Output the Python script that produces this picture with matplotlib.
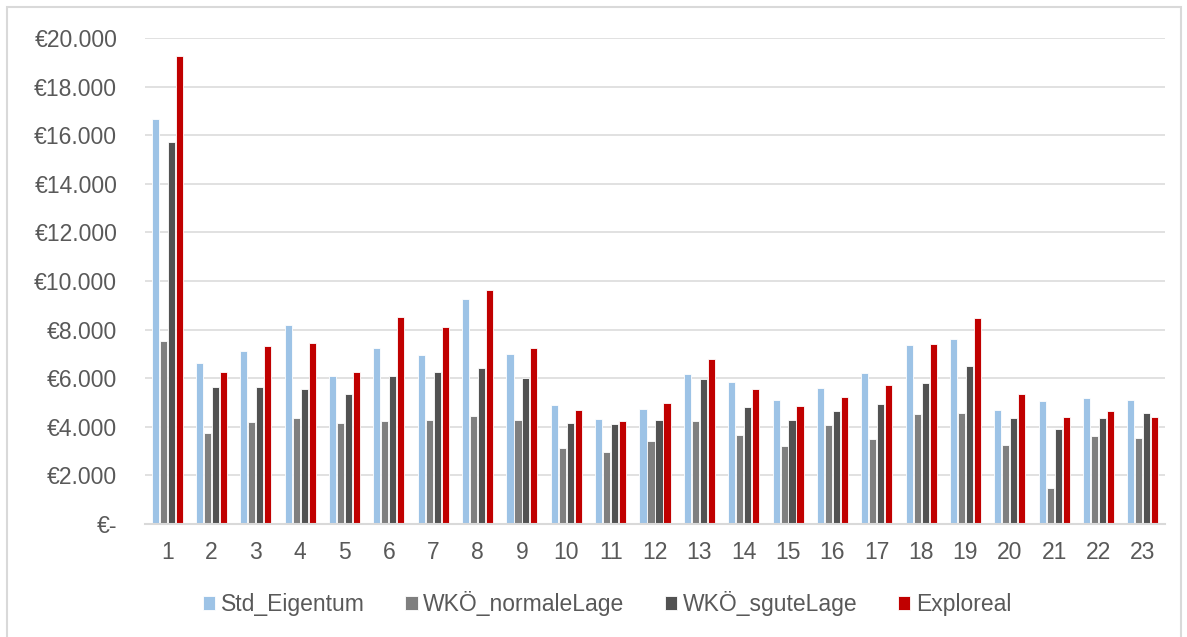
import numpy as np
import matplotlib.pyplot as plt
from matplotlib.patches import Rectangle
from matplotlib.ticker import FuncFormatter

plt.rcParams['font.family'] = ['Liberation Sans', 'DejaVu Sans']

# data
categories = [str(i) for i in range(1, 24)]
std_eigentum = [16650, 6630, 7130, 8170, 6110, 7250, 6960, 9240, 6980, 4900,
                4330, 4750, 6190, 5860, 5120, 5600, 6220, 7370, 7620, 4700,
                5080, 5180, 5120]
wko_normal = [7540, 3740, 4190, 4380, 4170, 4230, 4300, 4450, 4260, 3110,
              2960, 3400, 4220, 3680, 3200, 4070, 3480, 4510, 4580, 3260,
              1500, 3630, 3550]
wko_gut = [15730, 5650, 5630, 5560, 5370, 6080, 6240, 6430, 6000, 4170,
           4110, 4290, 5950, 4810, 4300, 4630, 4920, 5820, 6520, 4360,
           3890, 4370, 4550]
exploreal = [19240, 6260, 7330, 7440, 6260, 8500, 8100, 9640, 7250, 4680,
             4250, 4960, 6770, 5560, 4840, 5210, 5730, 7390, 8490, 5370,
             4410, 4660, 4410]

series = ["Std_Eigentum", "WKÖ_normaleLage", "WKÖ_sguteLage", "Exploreal"]
colors = ["#9DC3E6", "#7F7F7F", "#525252", "#C00000"]
values = [std_eigentum, wko_normal, wko_gut, exploreal]

text_col = "#595959"
grid_col = "#D9D9D9"

fig = plt.figure(figsize=(11.87, 6.37), dpi=100)
ax = fig.add_axes([145 / 1187, 1 - 524 / 637, 1020 / 1187, (524 - 38) / 637])

x = np.arange(len(categories))
step = 0.18
for i, (name, vals, c) in enumerate(zip(series, values, colors)):
    ax.bar(x + (i - 1.5) * step, vals, width=0.16, color=c,
           edgecolor="white", linewidth=0.6, label=name, zorder=3)

ax.set_xlim(-0.5, len(categories) - 0.5)
ax.set_ylim(0, 20000)
ax.set_yticks(np.arange(0, 20001, 2000))
ax.yaxis.set_major_formatter(FuncFormatter(
    lambda v, p: "€-" if v == 0 else "€" + f"{int(v):,}".replace(",", ".")))
ax.set_xticks(x)
ax.set_xticklabels(categories)

ax.grid(axis="y", color=grid_col, linewidth=1.1, zorder=0)
ax.set_axisbelow(True)
for s in ["top", "right", "left"]:
    ax.spines[s].set_visible(False)
ax.spines["bottom"].set_color(grid_col)
ax.spines["bottom"].set_linewidth(1.5)
ax.spines["bottom"].set_zorder(4)

ax.tick_params(axis="y", length=0, pad=20, labelsize=16.5, labelcolor=text_col)
ax.tick_params(axis="x", length=0, pad=12, labelsize=16.5, labelcolor=text_col)

fig.legend(loc="center", bbox_to_anchor=(607 / 1187, 1 - 604 / 637), ncol=4,
           frameon=False, fontsize=16.5, handlelength=0.55, handleheight=0.55,
           handletextpad=0.25, columnspacing=1.75, labelcolor=text_col)

# chart area border
fig.patches.append(Rectangle((7 / 1187, -0.01), 1174 / 1187, 1 - 7 / 637 + 0.01,
                             transform=fig.transFigure, fill=False,
                             edgecolor=grid_col, linewidth=1.5))

fig.savefig("out.png", dpi=100)
